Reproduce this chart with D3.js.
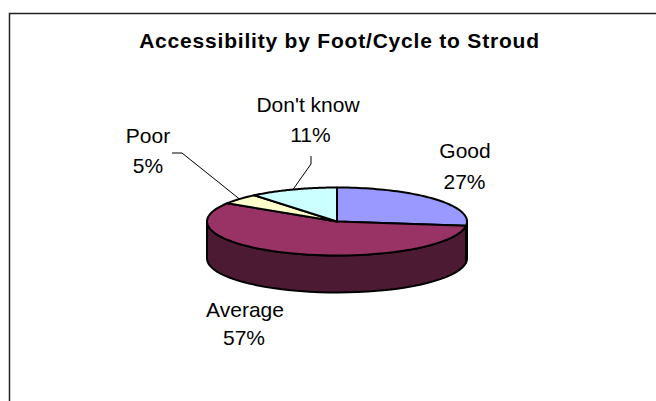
<!DOCTYPE html>
<html><head><meta charset="utf-8">
<script src="https://cdn.jsdelivr.net/npm/d3@7/dist/d3.min.js"></script>
<style>html,body{margin:0;padding:0;background:#fff}svg{display:block}text{font-family:"Liberation Sans",Arial,sans-serif;fill:#000}</style>
</head><body><svg id="c" width="656" height="401"></svg>
<script>
const categories = ["Good","Average","Poor","Don't know"];
const values = [27,57,5,11];
const topColors = ["#9999FF","#993366","#FFFFCC","#CCFFFF"];
const sideColors = ["#4D4D80","#4D1A33","#808066","#668080"];
const title = "Accessibility by Foot/Cycle to Stroud";

const svg = d3.select("#c");
const cx = 337, cy = 221.5, rx = 130, ry = 34, depth = 37;

svg.append("path").attr("d","M656,13.5H9.5V401").attr("fill","none").attr("stroke","#222").attr("stroke-width",1.5);

svg.append("text").attr("x",339.5).attr("y",48).attr("text-anchor","middle")
  .attr("font-size",21).attr("letter-spacing",0.8).attr("font-weight","bold").text(title);

const pie = d3.pie().sort(null).value(d=>d)(values);
const px = d3.scaleLinear().domain([-1,1]).range([cx-rx,cx+rx]);
const py = d3.scaleLinear().domain([-1,1]).range([cy-ry,cy+ry]);
const pt = a => [px(Math.sin(a)), py(-Math.cos(a))];

const g = svg.append("g");
pie.forEach((s,i)=>{
  const a0 = Math.max(s.startAngle, Math.PI/2), a1 = Math.min(s.endAngle, 3*Math.PI/2);
  if (a1 <= a0) return;
  const steps = d3.range(0,41).map(k=>a0+(a1-a0)*k/40);
  const upper = steps.map(pt);
  const lower = steps.slice().reverse().map(a=>{const p=pt(a);return [p[0],p[1]+depth];});
  g.append("path").attr("d",d3.line()(upper.concat(lower))+"Z")
    .attr("fill",sideColors[i]).attr("stroke","#000").attr("stroke-width",2).attr("stroke-linejoin","round");
});

pie.forEach((s,i)=>{
  const steps = d3.range(0,61).map(k=>s.startAngle+(s.endAngle-s.startAngle)*k/60);
  g.append("path").attr("d",d3.line()([[cx,cy]].concat(steps.map(pt)))+"Z")
    .attr("fill",topColors[i]).attr("stroke","#000").attr("stroke-width",2).attr("stroke-linejoin","round");
});

const leaders = [null,null,[[172,153],[182,153]],[[311,156],[311,164]]];
pie.forEach((s,i)=>{
  if(!leaders[i]) return;
  const p = pt((s.startAngle+s.endAngle)/2);
  svg.append("path").attr("d",d3.line()(leaders[i].concat([p])))
    .attr("fill","none").attr("stroke","#000").attr("stroke-width",1);
});

const namePos = [[465,158],[245,317],[148,143],[308,112]];
const valuePos = [[464.5,189],[244,345],[148,173],[310.5,141.5]];
categories.forEach((c,i)=>{
  const t = svg.append("text").attr("text-anchor","middle").attr("font-size",21);
  t.append("tspan").attr("x",namePos[i][0]).attr("y",namePos[i][1]).text(c);
  t.append("tspan").attr("x",valuePos[i][0]).attr("y",valuePos[i][1]).text(values[i]+"%");
});
</script></body></html>
